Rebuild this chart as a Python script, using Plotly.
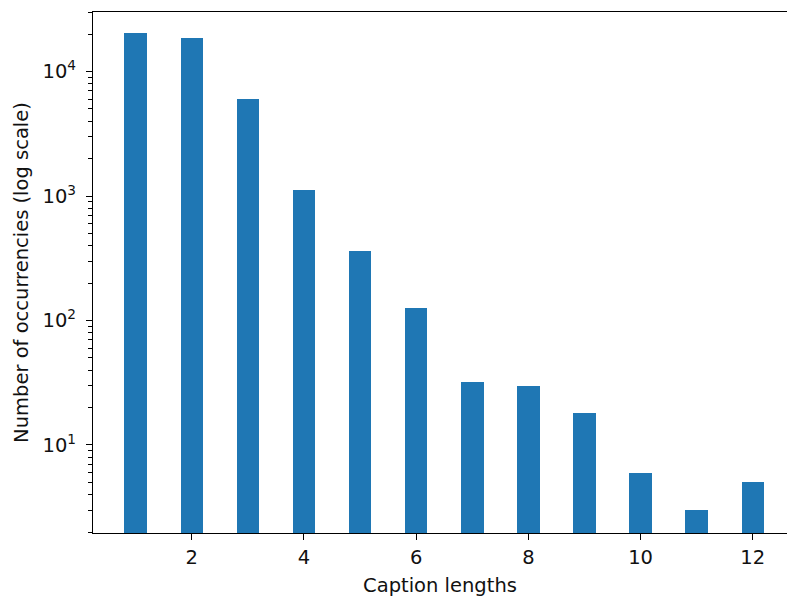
import plotly.graph_objects as go

caption_lengths = [1, 2, 3, 4, 5, 6, 7, 8, 9, 10, 11, 12]
occurrences = [20500, 18500, 6030, 1110, 360, 125, 32, 29.6, 18, 6, 3, 5]

y_tick_vals = [10, 100, 1000, 10000]
y_tick_text = ["10<sup>1</sup>", "10<sup>2</sup>", "10<sup>3</sup>", "10<sup>4</sup>"]
x_tick_vals = [2, 4, 6, 8, 10, 12]

minor_vals = [m * 10 ** d for d in range(0, 5) for m in range(2, 10)]

FONT = "DejaVu Sans"
FS = 19.5
fig = go.Figure(go.Bar(
    x=caption_lengths, y=occurrences, width=0.4,
    marker=dict(color="#1f77b4", line=dict(width=0)),
))
fig.update_layout(
    width=787, height=597,
    margin=dict(l=93, r=0, t=12, b=64, autoexpand=False),
    paper_bgcolor="white", plot_bgcolor="white",
    font=dict(family=FONT, size=FS, color="#111111"),
    showlegend=False,
    bargap=0,
)
fig.update_xaxes(
    range=[0.239, 12.61], automargin=False,
    tickvals=x_tick_vals, ticks="outside", ticklen=6, tickwidth=1.2, tickcolor="black",
    showline=True, linecolor="black", linewidth=1.2, mirror=True,
    showgrid=False, zeroline=False,
    tickfont=dict(size=FS),
    title=dict(text="Caption lengths", font=dict(size=FS), standoff=13),
)
fig.update_yaxes(
    type="log", range=[0.293, 4.478], automargin=False,
    tickvals=y_tick_vals, ticktext=y_tick_text,
    ticks="outside", ticklen=6, tickwidth=1.2, tickcolor="black",
    ticklabelstandoff=6,
    minor=dict(tickvals=minor_vals, ticks="outside", ticklen=3.5, tickwidth=1, tickcolor="black", showgrid=False),
    showline=True, linecolor="black", linewidth=1.2,
    showgrid=False, zeroline=False,
    tickfont=dict(size=FS),
    title=dict(text="Number of occurrencies (log scale)", font=dict(size=FS), standoff=8),
)
fig.write_html(
    "out.html",
    config={"displayModeBar": False},
    post_script="document.body.style.margin='0';document.body.style.overflow='hidden';",
)
